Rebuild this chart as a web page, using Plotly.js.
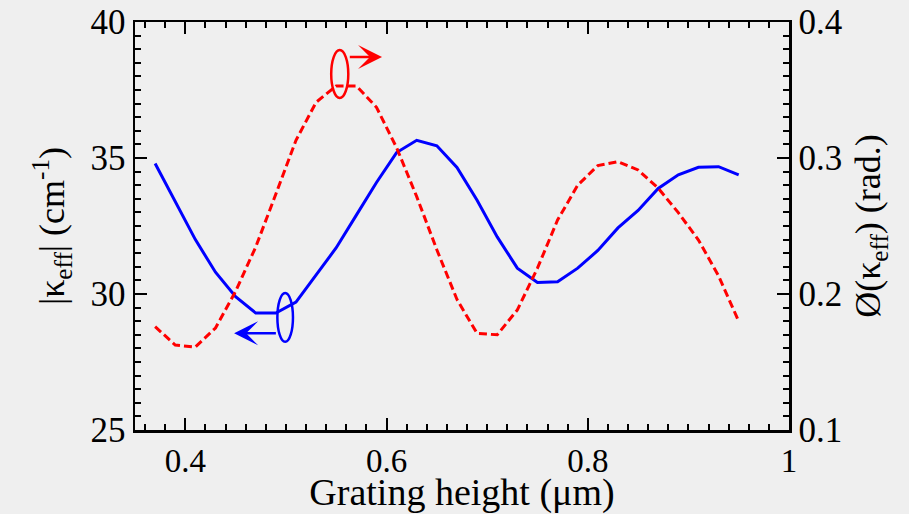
<!DOCTYPE html>
<html>
<head>
<meta charset="utf-8">
<script src="https://cdn.plot.ly/plotly-3.0.1.min.js"></script>
<style>
  html, body { margin: 0; padding: 0; background: #efefef; }
  #chart { width: 909px; height: 514px; }
</style>
</head>
<body>
<div id="chart"></div>
<script>
// Grating height (µm)
const gratingHeight = [0.37, 0.39, 0.41, 0.43, 0.45, 0.47, 0.49, 0.51, 0.53, 0.55,
                       0.57, 0.59, 0.61, 0.63, 0.65, 0.67, 0.69, 0.71, 0.73, 0.75,
                       0.77, 0.79, 0.81, 0.83, 0.85, 0.87, 0.89, 0.91, 0.93, 0.95];

// |kappa_eff| in cm^-1 (left axis)
const kappaMag = [34.8, 33.4, 32.0, 30.8, 29.9, 29.3, 29.3, 29.7, 30.7, 31.7,
                  32.9, 34.1, 35.2, 35.65, 35.45, 34.65, 33.45, 32.1, 30.95, 30.42,
                  30.45, 30.95, 31.6, 32.43, 33.07, 33.88, 34.38, 34.66, 34.68, 34.38];

// phase of kappa_eff in rad (right axis)
const kappaPhase = [0.176, 0.1625, 0.161, 0.175, 0.202, 0.2346, 0.2735, 0.313, 0.341, 0.353,
                    0.353, 0.3373, 0.3076, 0.2716, 0.2325, 0.196, 0.171, 0.170, 0.1883, 0.219,
                    0.2544, 0.280, 0.2944, 0.2973, 0.2912, 0.2778, 0.2598, 0.2397, 0.2133, 0.180];

const serif = "'Liberation Serif', 'Times New Roman', serif";
const bg = '#efefef';

const traces = [
  {
    x: gratingHeight, y: kappaMag, type: 'scatter', mode: 'lines',
    line: { color: 'rgb(0,0,255)', width: 3 }, yaxis: 'y', hoverinfo: 'skip'
  },
  {
    x: gratingHeight, y: kappaPhase, type: 'scatter', mode: 'lines',
    line: { color: 'rgb(255,0,0)', width: 3, dash: '8px,4px' }, yaxis: 'y2', hoverinfo: 'skip'
  }
];

const tickFont = { family: serif, size: 35, color: '#000' };

const layout = {
  width: 909, height: 514,
  margin: { l: 135, r: 120, t: 22, b: 84 },
  paper_bgcolor: bg, plot_bgcolor: bg,
  showlegend: false,
  font: { family: serif, color: '#000' },
  xaxis: {
    range: [0.35, 1.0], tick0: 0.4, dtick: 0.2,
    ticks: 'inside', ticklen: 12, tickwidth: 2, tickcolor: '#000',
    minor: { dtick: 0.02, tick0: 0.4, ticks: 'inside', ticklen: 6, tickwidth: 2, tickcolor: '#000', showgrid: false },
    showline: true, linewidth: 2.5, linecolor: '#000', mirror: 'ticks',
    showgrid: false, zeroline: false,
    tickfont: { family: serif, size: 33, color: '#000' },
    title: { text: 'Grating height (μm)', font: { family: serif, size: 38, color: '#000' }, standoff: 0 }
  },
  yaxis: {
    range: [25, 40], tick0: 25, dtick: 5,
    ticks: 'inside', ticklen: 12, tickwidth: 2, tickcolor: '#000',
    minor: { dtick: 0.5, ticks: 'inside', ticklen: 6, tickwidth: 2, tickcolor: '#000', showgrid: false },
    showline: true, linewidth: 2.5, linecolor: '#000',
    showgrid: false, zeroline: false,
    tickfont: tickFont,
    title: { text: '|κ<sub>eff</sub>| (cm<sup>-1</sup>)', font: { family: serif, size: 36, color: '#000' }, standoff: 15 }
  },
  yaxis2: {
    overlaying: 'y', side: 'right',
    range: [0.1, 0.4], tick0: 0.1, dtick: 0.1, tickformat: '.1f',
    ticks: 'inside', ticklen: 12, tickwidth: 2, tickcolor: '#000',
    minor: { dtick: 0.01, ticks: 'inside', ticklen: 6, tickwidth: 2, tickcolor: '#000', showgrid: false },
    showline: true, linewidth: 2.5, linecolor: '#000',
    showgrid: false, zeroline: false,
    tickfont: tickFont,
    title: { text: 'Ø(κ<sub>eff</sub>) (rad.)', font: { family: serif, size: 36, color: '#000' }, standoff: 14 }
  },
  shapes: [
    // ellipse marking the phase curve
    { type: 'circle', xref: 'x', yref: 'y2', x0: 0.545, x1: 0.562, y0: 0.3441, y1: 0.3794,
      line: { color: 'rgb(255,0,0)', width: 2.5 }, layer: 'above' },
    // ellipse marking the magnitude curve
    { type: 'circle', xref: 'x', yref: 'y', x0: 0.4915, x1: 0.507, y0: 28.24, y1: 30.04,
      line: { color: 'rgb(0,0,255)', width: 2.5 }, layer: 'above' }
  ],
  annotations: [
    // phase curve -> right axis
    { xref: 'x', yref: 'y2', axref: 'x', ayref: 'y2',
      x: 0.5955, y: 0.3743, ax: 0.562, ay: 0.3743,
      text: '', showarrow: true, arrowhead: 3, arrowsize: 1.6, arrowwidth: 2.5, arrowcolor: 'rgb(255,0,0)' },
    // magnitude curve -> left axis
    { xref: 'x', yref: 'y', axref: 'x', ayref: 'y',
      x: 0.4485, y: 28.555, ax: 0.4915, ay: 28.555,
      text: '', showarrow: true, arrowhead: 3, arrowsize: 1.6, arrowwidth: 2.5, arrowcolor: 'rgb(0,0,255)' }
  ]
};

Plotly.newPlot('chart', traces, layout, { staticPlot: true, displayModeBar: false });
</script>
</body>
</html>
